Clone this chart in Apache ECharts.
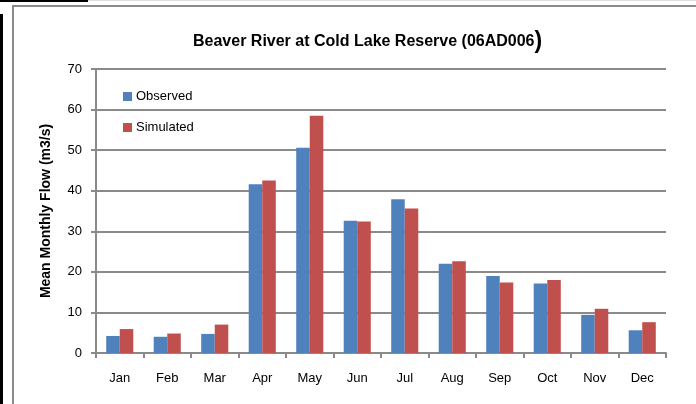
<!DOCTYPE html>
<html>
<head>
<meta charset="utf-8">
<script src="https://cdn.jsdelivr.net/npm/echarts@6/dist/echarts.min.js"></script>
<style>
html,body{margin:0;padding:0;background:#fff;}
#c{width:696px;height:404px;}
</style>
</head>
<body>
<div id="c"></div>
<script>
const months = ['Jan','Feb','Mar','Apr','May','Jun','Jul','Aug','Sep','Oct','Nov','Dec'];
const observed = [4.2, 4.0, 4.7, 41.6, 50.6, 32.6, 37.9, 22.0, 19.0, 17.1, 9.4, 5.6];
const simulated = [5.9, 4.8, 7.0, 42.5, 58.5, 32.4, 35.6, 22.6, 17.4, 18.0, 10.9, 7.6];
const yTicks = [0, 10, 20, 30, 40, 50, 60, 70];

const font = '"Liberation Sans", Arial, sans-serif';
const gray = '#8a8a8a';
const chart = echarts.init(document.getElementById('c'), null, {renderer: 'canvas'});
chart.setOption({
  animation: false,
  backgroundColor: '#fff',
  textStyle: {fontFamily: font},
  title: {
    text: '{a|Beaver River at Cold Lake Reserve (06AD006}{b|)}',
    left: 188,
    top: 25,
    textStyle: {
      rich: {
        a: {fontFamily: font, fontWeight: 'bold', fontSize: 16, color: '#000'},
        b: {fontFamily: font, fontWeight: 'bold', fontSize: 23, color: '#000'}
      }
    }
  },
  legend: {
    orient: 'vertical',
    left: 123,
    top: 90,
    padding: 0,
    itemWidth: 9,
    itemHeight: 9,
    itemGap: 18,
    icon: 'rect',
    textStyle: {fontFamily: font, fontSize: 13, color: '#000', padding: [0,0,0,-1]},
    data: ['Observed', 'Simulated']
  },
  grid: {left: 96, right: 30, top: 69, bottom: 51, containLabel: false},
  xAxis: {
    type: 'category',
    data: months,
    axisLine: {lineStyle: {color: gray, width: 2}},
    axisTick: {show: true, length: 5, lineStyle: {color: gray, width: 2}},
    axisLabel: {fontFamily: font, fontSize: 13, color: '#000', margin: 19}
  },
  yAxis: {
    type: 'value',
    min: yTicks[0],
    max: yTicks[yTicks.length - 1],
    interval: 10,
    name: 'Mean Monthly Flow (m3/s)',
    nameLocation: 'middle',
    nameGap: 43,
    nameTextStyle: {fontFamily: font, fontWeight: 'bold', fontSize: 14, color: '#000'},
    axisLine: {show: true, lineStyle: {color: gray, width: 2}},
    axisTick: {show: true, length: 5, lineStyle: {color: gray, width: 2}},
    axisLabel: {fontFamily: font, fontSize: 13, color: '#000', margin: 14},
    splitLine: {show: true, lineStyle: {color: gray, width: 2}}
  },
  series: [
    {name: 'Observed', type: 'bar', data: observed, itemStyle: {color: '#4F81BD'}, barGap: '0%', barCategoryGap: '43%'},
    {name: 'Simulated', type: 'bar', data: simulated, itemStyle: {color: '#C0504D'}, barGap: '0%', barCategoryGap: '43%'}
  ],
  graphic: [
    {type: 'rect', shape: {x: 0, y: 0, width: 88, height: 2}, style: {fill: '#000'}, silent: true},
    {type: 'rect', shape: {x: 88, y: 0, width: 608, height: 1}, style: {fill: '#ddd'}, silent: true},
    {type: 'rect', shape: {x: 0, y: 14, width: 3, height: 390}, style: {fill: '#000'}, silent: true},
    {type: 'rect', shape: {x: 12, y: 5, width: 684, height: 2}, style: {fill: gray}, silent: true},
    {type: 'rect', shape: {x: 12, y: 5, width: 2, height: 399}, style: {fill: gray}, silent: true}
  ]
});
</script>
</body>
</html>
